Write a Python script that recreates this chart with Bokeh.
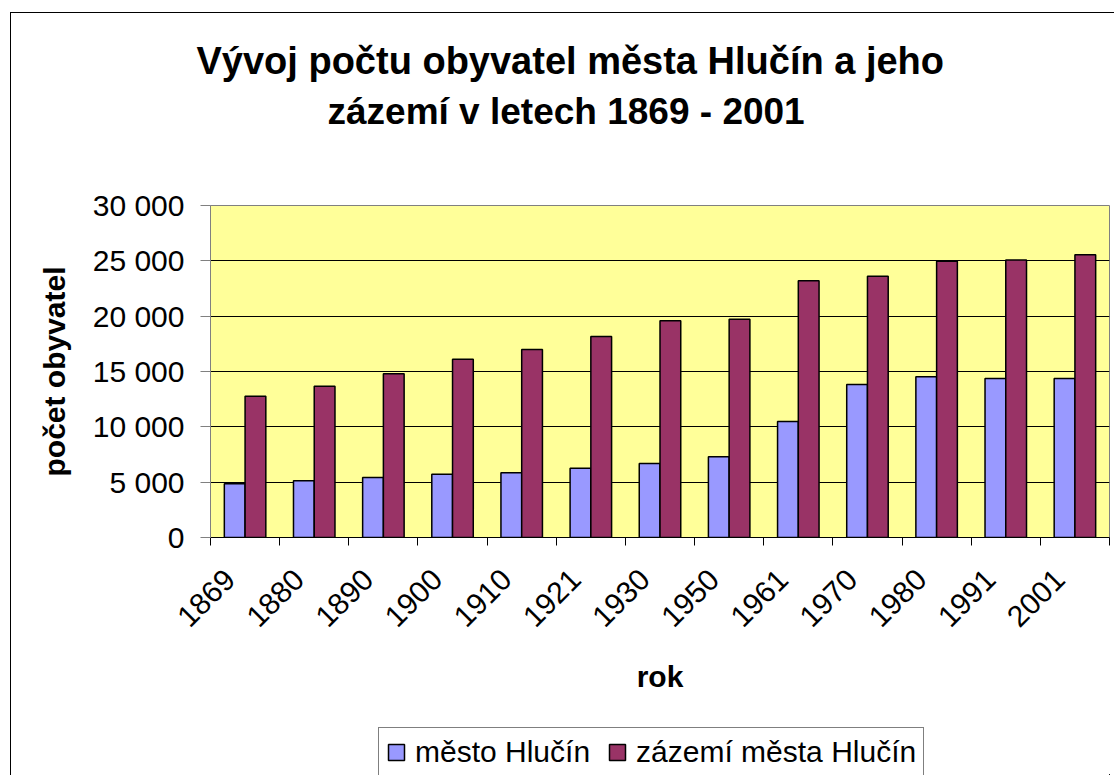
import math
from bokeh.plotting import figure
from bokeh.layouts import column
from bokeh.models import (ColumnDataSource, Range1d, FixedTicker, Legend,
                          LegendItem, Title)
from bokeh.transform import dodge
from bokeh.embed import file_html
from bokeh.resources import INLINE

# ---- data -------------------------------------------------------------
years = ["1869", "1880", "1890", "1900", "1910", "1921", "1930",
         "1950", "1961", "1970", "1980", "1991", "2001"]
mesto = [4850, 5120, 5420, 5710, 5850, 6260, 6690,
         7300, 10480, 13820, 14520, 14360, 14360]
zazemi = [12770, 13670, 14800, 16110, 16990, 18160, 19580,
          19720, 23200, 23600, 24960, 25080, 25540]
y_ticks = [0, 5000, 10000, 15000, 20000, 25000, 30000]
y_tick_labels = ["0", "5 000", "10 000", "15 000", "20 000", "25 000", "30 000"]
series_names = ["město Hlučín", "zázemí města Hlučín"]
title_lines = ["Vývoj počtu obyvatel města Hlučín a jeho",
               "zázemí v letech 1869 - 2001"]
x_title = "rok"
y_title = "počet obyvatel"

FONT = "Liberation Sans"
BLUE = "#9999FF"
MAROON = "#993366"
YELLOW = "#FFFF99"

idx = list(range(len(years)))
src = ColumnDataSource(dict(idx=idx, year=years, mesto=mesto, zazemi=zazemi))

p = figure(frame_width=899, frame_height=332,
           x_range=Range1d(0, len(years)), y_range=Range1d(0, 30000),
           output_backend="svg", toolbar_location=None,
           min_border_left=199, min_border_right=5,
           min_border_top=192, min_border_bottom=175)
p.background_fill_color = YELLOW
p.border_fill_color = "white"
p.outline_line_color = "#808080"
p.outline_line_width = 1

r1 = p.vbar(x=dodge("idx", 0.35), top="mesto", width=0.3, source=src,
            fill_color=BLUE, line_color="black", line_width=1.5)
r2 = p.vbar(x=dodge("idx", 0.65), top="zazemi", width=0.3, source=src,
            fill_color=MAROON, line_color="black", line_width=1.5)

# x axis: labels near category centres, tick marks at category boundaries
xa = p.xaxis[0]
lab_pos = [i + 0.28 for i in idx]
xa.ticker = FixedTicker(ticks=lab_pos, minor_ticks=idx + [len(years)])
xa.major_label_overrides = {t: y for t, y in zip(lab_pos, years)}
xa.major_tick_out = 0
xa.major_tick_in = 0
xa.minor_tick_out = 8
xa.minor_tick_in = 0
xa.minor_tick_line_color = "black"
xa.axis_line_color = "black"
xa.major_label_orientation = math.pi / 4
xa.major_label_standoff = 29
xa.major_label_text_font = FONT
xa.major_label_text_font_size = "30px"
xa.major_label_text_color = "black"
xa.axis_label = x_title
xa.axis_label_text_font = FONT
xa.axis_label_text_font_size = "30px"
xa.axis_label_text_font_style = "bold"
xa.axis_label_text_color = "black"
xa.axis_label_standoff = 21

ya = p.yaxis[0]
ya.ticker = FixedTicker(ticks=y_ticks)
ya.major_label_overrides = dict(zip(y_ticks, y_tick_labels))
ya.major_tick_out = 10
ya.major_tick_in = 0
ya.minor_tick_out = 0
ya.minor_tick_in = 0
ya.axis_line_color = "#808080"
ya.major_tick_line_color = "#808080"
ya.major_label_standoff = 16
ya.major_label_text_font = FONT
ya.major_label_text_font_size = "30px"
ya.major_label_text_color = "black"
ya.axis_label = y_title
ya.axis_label_text_font = FONT
ya.axis_label_text_font_size = "30px"
ya.axis_label_text_font_style = "bold"
ya.axis_label_text_color = "black"
ya.axis_label_standoff = 19

p.xgrid.visible = False
p.ygrid.ticker = FixedTicker(ticks=y_ticks)
p.ygrid.grid_line_color = "black"
p.ygrid.grid_line_width = 1

# title: spacer next to the plot, then the two centred lines
spacer = Title(text=" ", text_font_size="1px", standoff=64)
t2 = Title(text=title_lines[1], align="left", offset=117, standoff=14,
           text_font=FONT, text_font_size="37px", text_font_style="bold",
           text_color="black")
t1 = Title(text=title_lines[0], align="left", offset=-14, standoff=0,
           text_font=FONT, text_font_size="38px", text_font_style="bold",
           text_color="black")
p.add_layout(spacer, "above")
p.add_layout(t2, "above")
p.add_layout(t1, "above")

# ---- legend strip below the chart ----------------------------------
# same series drawn again, but entirely outside this strip's visible ranges,
# so only their legend keys show
lg = figure(width=1103, height=63, x_range=Range1d(-200, -199),
            y_range=Range1d(1000000, 1000001),
            output_backend="svg", toolbar_location=None,
            x_axis_location=None, y_axis_location=None, min_border=0)
lg.grid.visible = False
lg.outline_line_color = None
lg.background_fill_color = "white"
lg.border_fill_color = "white"
k1 = lg.vbar(x=dodge("idx", 0.35), top="mesto", width=0.3, source=src,
             fill_color=BLUE, line_color="black", line_width=1.5)
k2 = lg.vbar(x=dodge("idx", 0.65), top="zazemi", width=0.3, source=src,
             fill_color=MAROON, line_color="black", line_width=1.5)

legend = Legend(items=[LegendItem(label=series_names[0], renderers=[k1]),
                       LegendItem(label=series_names[1], renderers=[k2])],
                orientation="horizontal", location=(168, -2))
legend.label_text_font = FONT
legend.label_text_font_size = "30px"
legend.label_text_color = "black"
legend.glyph_width = 20
legend.glyph_height = 20
legend.label_standoff = 9
legend.spacing = 17
legend.padding = 7
legend.margin = 0
legend.border_line_color = "black"
legend.border_line_width = 1
legend.background_fill_color = "white"
lg.add_layout(legend, "center")

layout = column(p, lg, spacing=0,
                styles={"margin-left": "10px", "margin-top": "12px",
                        "border-left": "1px solid #000000",
                        "border-top": "1px solid #000000"})

open("out.html", "w").write(file_html(layout, INLINE))
